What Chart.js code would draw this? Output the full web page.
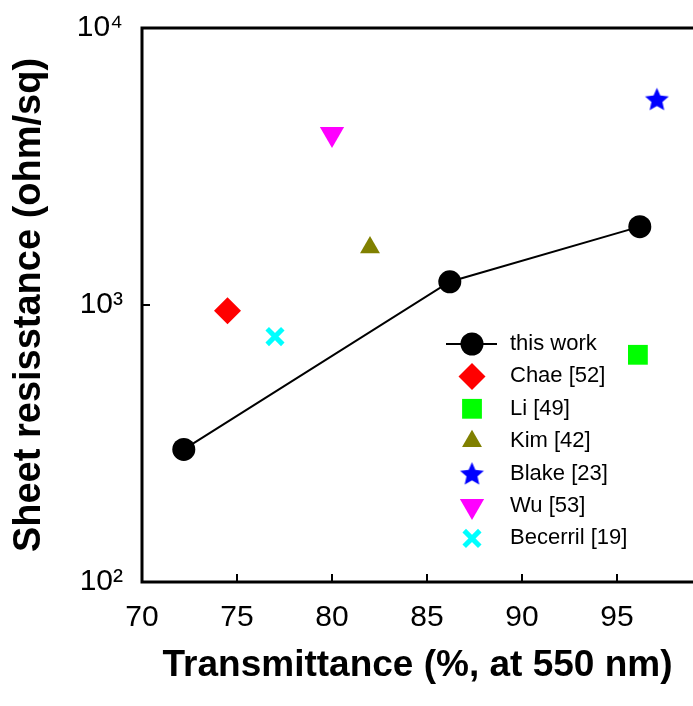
<!DOCTYPE html>
<html>
<head>
<meta charset="utf-8">
<script src="https://cdn.jsdelivr.net/npm/chart.js@4/dist/chart.umd.min.js"></script>
<style>
  html, body { margin: 0; padding: 0; background: #fff; }
</style>
</head>
<body>
<canvas id="c" width="693" height="706"></canvas>
<script>
// this work
const thisWorkT = [72.2, 86.2, 96.2];
const thisWorkR = [301, 1213, 1918];
// literature points
const refNames = ['Chae [52]', 'Li [49]', 'Kim [42]', 'Blake [23]', 'Wu [53]', 'Becerril [19]'];
const refT = [74.5, 96.1, 82.0, 97.1, 80.0, 77.0];
const refR = [953, 661, 1614, 5533, 4140, 769];
// axes
const xTicks = [70, 75, 80, 85, 90, 95];
const yTicks = [100, 1000, 10000];
const yTickText = { 100: '10²', 1000: '10³', 10000: '10⁴' };

const FONT = "'Liberation Sans', Arial, sans-serif";
Chart.defaults.font.family = FONT;
Chart.defaults.color = '#000';

function starImage(r, color) {
  const c = document.createElement('canvas');
  const s = Math.ceil(r * 2) + 2;
  c.width = c.height = s;
  const g = c.getContext('2d');
  g.fillStyle = color;
  g.beginPath();
  for (let i = 0; i < 10; i++) {
    const a = -Math.PI / 2 + i * Math.PI / 5;
    const rr = i % 2 ? r * 0.46 : r;
    g.lineTo(s / 2 + rr * Math.cos(a), s / 2 + 1 + rr * Math.sin(a));
  }
  g.closePath();
  g.fill();
  return c;
}

const refStyles = [
  { pointStyle: 'rectRot', radius: 13.5, color: '#ff0000', rotation: 0 },
  { pointStyle: 'rect', radius: 14, color: '#00ff00', rotation: 0 },
  { pointStyle: 'triangle', radius: 11.5, color: '#808000', rotation: 0 },
  { pointStyle: starImage(12.5, '#0000ff'), radius: 12, color: '#0000ff', rotation: 0 },
  { pointStyle: 'triangle', radius: 14, color: '#ff00ff', rotation: 180 },
  { pointStyle: 'crossRot', radius: 11, color: '#00ffff', rotation: 0, line: 5 },
];

const datasets = [{
  label: 'this work',
  data: thisWorkT.map((t, i) => ({ x: t, y: thisWorkR[i] })),
  showLine: true,
  borderColor: '#000',
  borderWidth: 2,
  pointStyle: 'circle',
  pointRadius: 11.5,
  pointBackgroundColor: '#000',
  pointBorderColor: '#000',
  pointBorderWidth: 0,
}];
refNames.forEach((name, i) => {
  const st = refStyles[i];
  datasets.push({
    label: name,
    data: [{ x: refT[i], y: refR[i] }],
    pointStyle: st.pointStyle,
    pointRadius: st.radius,
    pointRotation: st.rotation,
    pointBackgroundColor: st.color,
    pointBorderColor: st.color,
    pointBorderWidth: st.line || 0,
  });
});

// axis frame with inward ticks
const frame = {
  id: 'frame',
  beforeDatasetsDraw(chart) {
    const { ctx, chartArea: a, scales: { x, y } } = chart;
    ctx.save();
    ctx.strokeStyle = '#000';
    ctx.lineWidth = 3;
    ctx.beginPath();
    ctx.moveTo(chart.width, a.top); ctx.lineTo(a.left, a.top);
    ctx.lineTo(a.left, a.bottom); ctx.lineTo(chart.width, a.bottom);
    ctx.stroke();
    ctx.lineWidth = 2;
    ctx.beginPath();
    x.ticks.forEach(t => {
      if (t.value === x.min) return;
      const px = x.getPixelForValue(t.value);
      ctx.moveTo(px, a.bottom); ctx.lineTo(px, a.bottom - 8);
    });
    y.ticks.forEach(t => {
      if (t.value === y.min || t.value === y.max) return;
      const py = y.getPixelForValue(t.value);
      ctx.moveTo(a.left, py); ctx.lineTo(a.left + 8, py);
    });
    ctx.stroke();
    ctx.restore();
  }
};

// legend inside the plot
const insideLegend = {
  id: 'insideLegend',
  afterDraw(chart) {
    const ctx = chart.ctx;
    const mx = 472, tx = 510, y0 = 344, step = 32.4;
    ctx.save();
    ctx.font = '22px ' + FONT;
    ctx.textBaseline = 'middle';
    ctx.textAlign = 'left';
    chart.data.datasets.forEach((ds, i) => {
      const yy = y0 + i * step;
      if (ds.showLine) {
        ctx.strokeStyle = ds.borderColor;
        ctx.lineWidth = ds.borderWidth;
        ctx.beginPath(); ctx.moveTo(446, yy); ctx.lineTo(497, yy); ctx.stroke();
      }
      ctx.fillStyle = ds.pointBackgroundColor;
      ctx.strokeStyle = ds.pointBorderColor;
      ctx.lineWidth = ds.pointBorderWidth;
      Chart.helpers.drawPoint(ctx, {
        pointStyle: ds.pointStyle,
        radius: ds.pointRadius,
        rotation: ds.pointRotation || 0,
        borderWidth: ds.pointBorderWidth,
      }, mx, yy);
      ctx.fillStyle = '#000';
      ctx.fillText(ds.label, tx, yy);
    });
    ctx.restore();
  }
};

new Chart(document.getElementById('c'), {
  type: 'scatter',
  data: { datasets },
  plugins: [frame, insideLegend],
  options: {
    responsive: false,
    animation: false,
    devicePixelRatio: 1,
    layout: { autoPadding: false, padding: { top: 28, right: 0, left: 0, bottom: 0 } },
    plugins: { legend: { display: false }, tooltip: { enabled: false } },
    scales: {
      x: {
        type: 'linear',
        min: 70,
        max: 99,
        grid: { display: false, drawTicks: false },
        border: { display: false },
        afterBuildTicks: s => { s.ticks = xTicks.map(v => ({ value: v })); },
        afterFit: s => { s.height = 124; s.paddingLeft = 0; s.paddingRight = 0; },
        ticks: { font: { size: 30 }, padding: 18, maxRotation: 0 },
        title: {
          display: true,
          text: 'Transmittance (%, at 550 nm)',
          font: { size: 37, weight: 'bold' },
          padding: { top: 0, bottom: 18 },
        },
      },
      y: {
        type: 'logarithmic',
        min: 100,
        max: 10000,
        grid: { display: false, drawTicks: false },
        border: { display: false },
        afterBuildTicks: s => { s.ticks = yTicks.map(v => ({ value: v })); },
        afterFit: s => { s.width = 142; s.paddingTop = 0; s.paddingBottom = 0; },
        ticks: { font: { size: 30 }, padding: 19, callback: v => yTickText[v] || '' },
        title: {
          display: true,
          text: 'Sheet resisstance (ohm/sq)',
          font: { size: 38, weight: 'bold' },
          padding: { top: 7, bottom: 0 },
        },
      },
    },
  },
});
</script>
</body>
</html>
